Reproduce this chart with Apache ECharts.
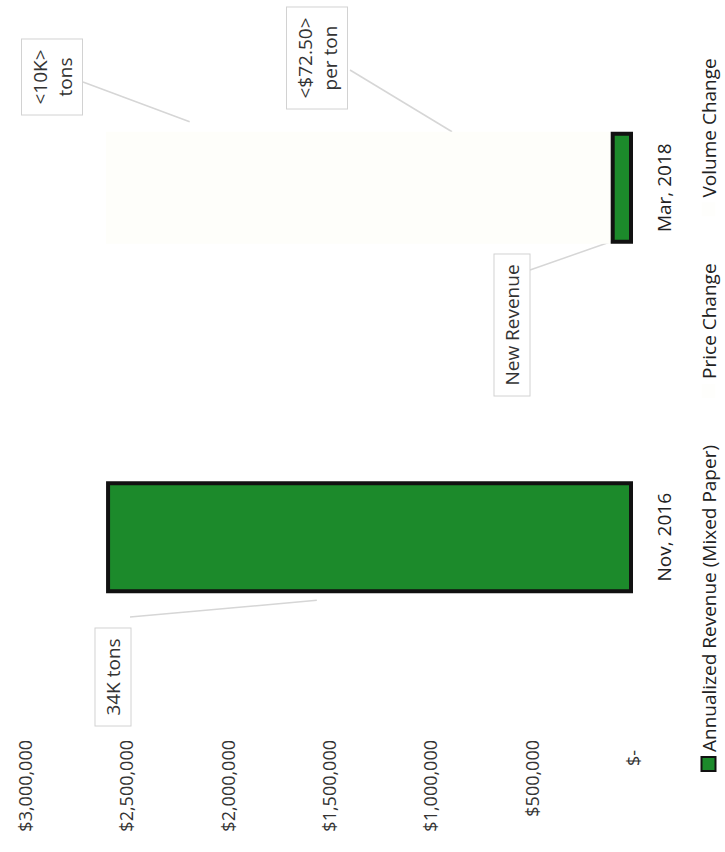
<!DOCTYPE html>
<html><head><meta charset="utf-8">
<script src="https://cdn.jsdelivr.net/npm/echarts@6/dist/echarts.min.js"></script>
<style>
html,body{margin:0;padding:0;background:#fff;overflow:hidden;width:725px;height:852px;}
#wrap{position:absolute;left:0;top:0;width:852px;height:725px;transform-origin:0 0;transform:translate(0,852px) rotate(-90deg);}
</style></head><body>
<div id="wrap"></div>
<script>
// ---- data ----
const categories = ['Nov, 2016', 'Mar, 2018'];
const seriesNames = ['Annualized Revenue (Mixed Paper)', 'Price Change', 'Volume Change'];
const revenueValues = [2600000, 110000];
const priceChangeValues = ['-', 1740000];
const volumeChangeValues = ['-', 750000];
const tickLabels = ['$-', '$500,000', '$1,000,000', '$1,500,000', '$2,000,000', '$2,500,000', '$3,000,000'];
const calloutTexts = ['34K tons', 'New Revenue', '<$72.50>\nper ton', '<10K>\ntons'];
const calloutSeries = [0, 0, 1, 2];
const calloutIndex = [0, 1, 1, 1];

// ---- layout / style (not data) ----
const FONT = '"Open Sans", "Liberation Sans", sans-serif';
const calloutBox = [ {x:175, y:113}, {x:527, y:512}, {x:794, y:317}, {x:775, y:52} ];
const leaderStart = [ {x:235, y:130}, {x:582, y:530}, {x:782, y:350}, {x:770, y:83} ];
const leaderFrac = [0.6, 1.0, 0.45, 0.45];
const leaderSide = [-1, -1, 1, 1];
const leaderGap = [7, -2, 0, 10];
const BAR_W = 112;

const seriesValues = [revenueValues, priceChangeValues, volumeChangeValues];

function calloutFor(s, i) {
  for (let k = 0; k < calloutTexts.length; k++) if (calloutSeries[k] === s && calloutIndex[k] === i) return k;
  return -1;
}

const chart = echarts.init(document.getElementById('wrap'), null, {renderer: 'svg', width: 852, height: 725});

const series = seriesValues.map((vals, s) => ({
  name: seriesNames[s],
  type: 'bar',
  stack: 'total',
  barWidth: BAR_W,
  z: s === 0 ? 3 : 2,
  itemStyle: s === 0 ? {color: '#1c8a2b', borderColor: '#111', borderWidth: 4}
                     : {color: '#fefefa', borderWidth: 0},
  emphasis: {disabled: true},
  data: vals.map((v, i) => ({value: v, label: {show: calloutFor(s, i) >= 0}})),
  label: {
    position: 'inside',
    formatter: p => { const k = calloutFor(p.seriesIndex, p.dataIndex); return k >= 0 ? calloutTexts[k] : ''; },
    color: '#333', fontFamily: FONT, fontSize: 19, lineHeight: 25,
    align: 'center',
    backgroundColor: '#fff', borderColor: '#d2d2d2', borderWidth: 1, padding: [5, 10]
  },
  labelLayout: p => {
    const k = calloutFor(p.seriesIndex, p.dataIndex);
    if (k < 0) return {};
    return {x: calloutBox[k].x, y: calloutBox[k].y, align: 'center', verticalAlign: 'middle'};
  }
}));

chart.setOption({
  animation: false,
  backgroundColor: '#fff',
  grid: {left: 140, right: 13, top: 25, bottom: 92, containLabel: false},
  legend: {
    left: 75, top: 694, itemWidth: 14, itemHeight: 14, itemGap: 47, icon: 'rect',
    selectedMode: false,
    textStyle: {fontSize: 19, color: '#222', fontFamily: FONT},
    data: [
      {name: seriesNames[0], itemStyle: {color: '#1c8a2b', borderColor: '#111', borderWidth: 2}},
      {name: seriesNames[1], itemStyle: {color: '#fefefc', borderWidth: 0}},
      {name: seriesNames[2], itemStyle: {color: '#fefefc', borderWidth: 0}}
    ]
  },
  xAxis: {
    type: 'category', data: categories,
    axisLine: {show: false}, axisTick: {show: false}, splitLine: {show: false},
    axisLabel: {fontSize: 19, color: '#222', margin: 21, fontFamily: FONT}
  },
  yAxis: {
    type: 'value', min: 0, max: 3000000, interval: 500000,
    axisLine: {show: false}, axisTick: {show: false}, splitLine: {show: false},
    axisLabel: {
      fontSize: 18, color: '#333', margin: 28, fontFamily: FONT,
      formatter: v => { const t = tickLabels[Math.round(v / 500000)]; return v === 0 ? '{z|' + t + '}' : t; },
      rich: {z: {fontSize: 18, color: '#333', fontFamily: FONT, padding: [0, 10, 0, 0]}}
    }
  },
  series: series
});

// leader lines from the callout boxes to the bars, anchored through the axes
const graphics = calloutTexts.map((t, k) => {
  const s = calloutSeries[k], i = calloutIndex[k];
  let base = 0;
  for (let j = 0; j < s; j++) { const v = seriesValues[j][i]; if (typeof v === 'number') base += v; }
  const own = seriesValues[s][i];
  const anchorVal = base + own * leaderFrac[k];
  const pt = chart.convertToPixel({xAxisIndex: 0, yAxisIndex: 0}, [i, anchorVal]);
  const ex = pt[0] + leaderSide[k] * (BAR_W / 2 + leaderGap[k]);
  return {type: 'line', z: 1, silent: true,
    shape: {x1: leaderStart[k].x, y1: leaderStart[k].y, x2: ex, y2: pt[1]},
    style: {stroke: '#d6d6d6', lineWidth: 1.5}};
});
chart.setOption({graphic: graphics});
</script>
</body></html>
